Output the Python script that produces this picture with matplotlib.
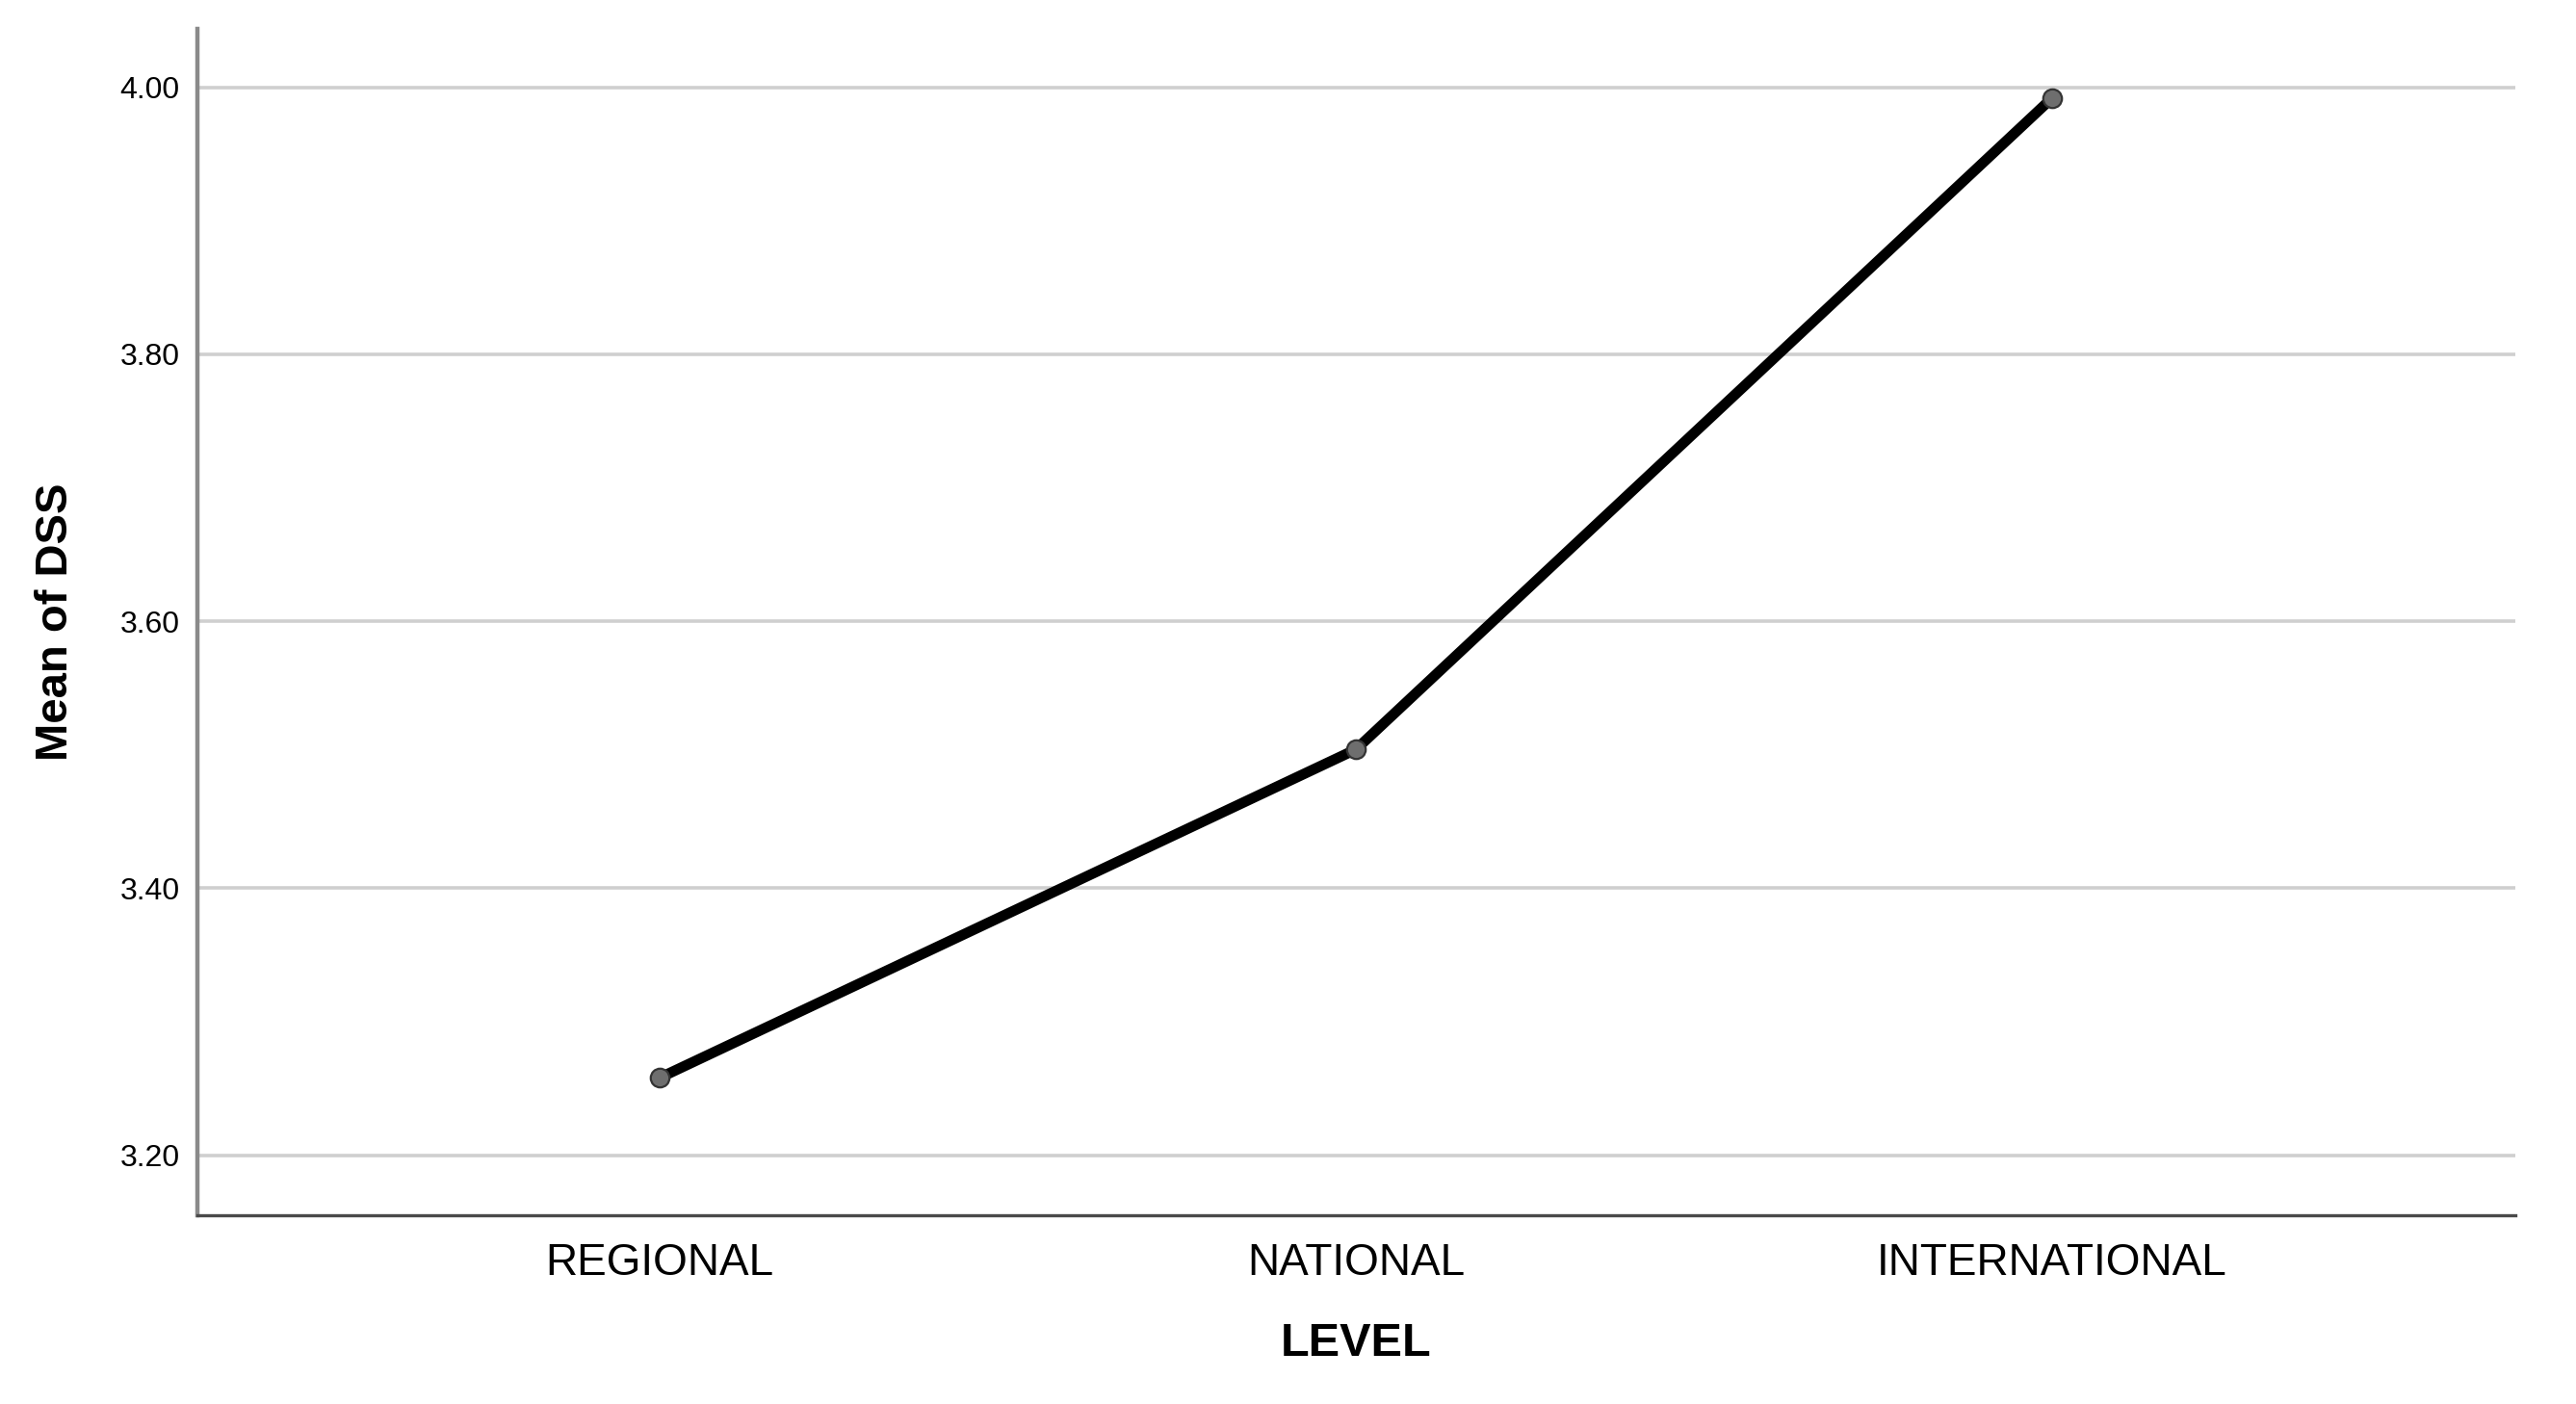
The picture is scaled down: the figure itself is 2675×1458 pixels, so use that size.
import matplotlib
matplotlib.use('Agg')
import matplotlib.pyplot as plt
import numpy as np

plt.rcParams['font.family'] = ['Liberation Sans', 'DejaVu Sans']

# data
levels = ['REGIONAL', 'NATIONAL', 'INTERNATIONAL']
mean_dss = [3.258, 3.504, 3.992]
yticks = [3.20, 3.40, 3.60, 3.80, 4.00]

fig = plt.figure(figsize=(26.75, 14.58), dpi=100)
ax = fig.add_axes([0.0766, 0.1344, 0.8998, 0.845])

x = np.arange(len(levels))

ax.set_yticks(yticks)
ax.set_yticklabels(['%.2f' % v for v in yticks])
ax.set_xticks(x)
ax.set_xticklabels(levels)
ax.set_xlim(-0.664, 2.665)
ax.set_ylim(3.155, 4.0437)

ax.grid(axis='y', color='#cfcfcf', linewidth=2.6)
ax.set_axisbelow(True)
ax.spines['right'].set_visible(False)
ax.spines['top'].set_visible(False)
ax.spines['left'].set_color('#8a8a8a')
ax.spines['left'].set_linewidth(3.2)
ax.spines['bottom'].set_color('#4a4a4a')
ax.spines['bottom'].set_linewidth(2.4)

ax.tick_params(axis='y', length=0, pad=13, labelsize=23)
ax.tick_params(axis='x', length=0, pad=20, labelsize=33)

ax.plot(x, mean_dss, '-o', color='black', linewidth=7.8,
        markersize=14, markerfacecolor='#6e6e6e', markeredgecolor='#333333',
        markeredgewidth=1.6, zorder=3)

ax.set_xlabel('LEVEL', fontsize=35, fontweight='bold')
ax.set_ylabel('Mean of DSS', fontsize=34, fontweight='bold')
ax.xaxis.set_label_coords(0.5, -0.090)
ax.yaxis.set_label_coords(-0.052, 0.5)

fig.savefig('out.png', dpi=100, facecolor='white')
